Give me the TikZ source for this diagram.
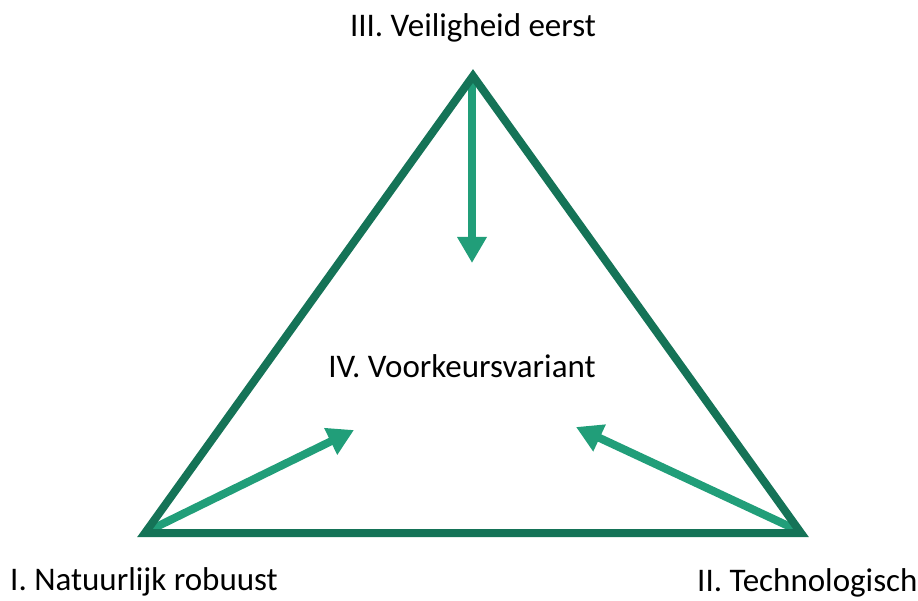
\documentclass[tikz,border=0pt]{standalone}
\usepackage{fontspec}
\setmainfont{Carlito}
\usetikzlibrary{arrows.meta}
\definecolor{tridark}{HTML}{157357}
\definecolor{arrowgreen}{HTML}{219E79}
\tikzset{
  tri/.style={draw=tridark,line width=8pt,line join=miter},
  bigarrow/.style={draw=arrowgreen,line width=8pt,-{Triangle[width=28pt,length=26pt]}},
  lbl/.style={font=\fontsize{33}{38}\selectfont,text=black,inner sep=0pt}
}
\begin{document}
\begin{tikzpicture}[x=1pt,y=-1pt]
\useasboundingbox (0,0) rectangle (918,601);
\coordinate (A) at (473,76);
\coordinate (B) at (145,533);
\coordinate (C) at (801,533);
\coordinate (Aa) at (472,80);
\coordinate (Bb) at (150,530);
\coordinate (Cc) at (797,530);
\coordinate (T1) at (472,263);
\coordinate (T2) at (354,430);
\coordinate (T3) at (576,427);
\draw[bigarrow] (Aa) -- (T1);
\draw[bigarrow] (Bb) -- (T2);
\draw[bigarrow] (Cc) -- (T3);
\draw[tri] (A) -- (B) -- (C) -- cycle;
\node[lbl] (top) at (473,28) {III. Veiligheid eerst};
\node[lbl] (mid) at (462,366) {IV. Voorkeursvariant};
\node[lbl,anchor=west] (left) at (10,582) {I. Natuurlijk robuust};
\node[lbl,anchor=west] (right) at (697,583) {II. Technologisch};
\end{tikzpicture}
\end{document}
